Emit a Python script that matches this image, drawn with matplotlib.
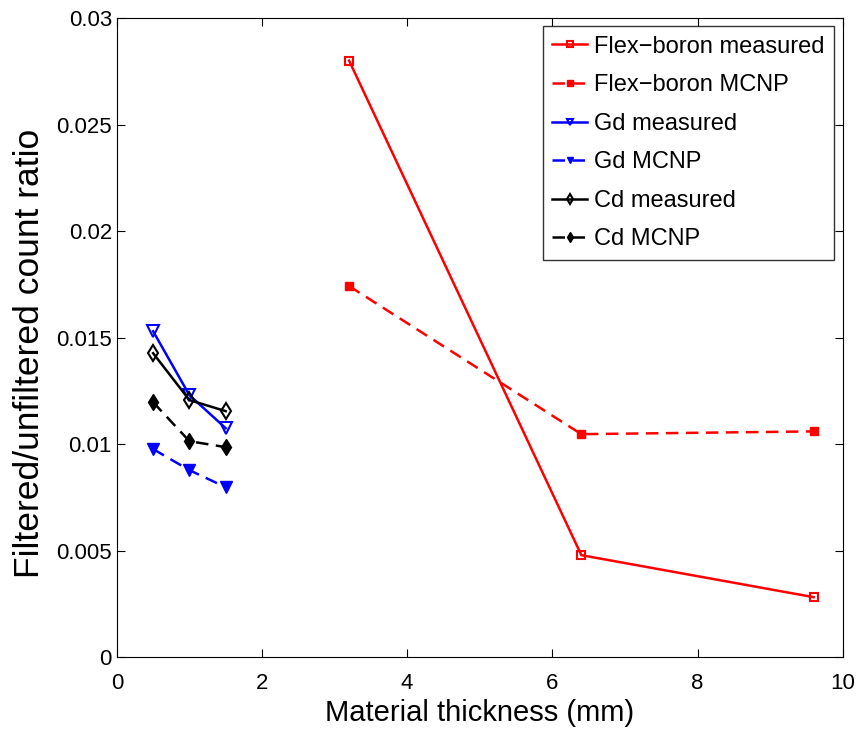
import numpy as np
import matplotlib.pyplot as plt

plt.rcParams['font.family'] = ['Liberation Sans', 'DejaVu Sans']

# thickness (mm)
x_flex = [3.2, 6.4, 9.6]
x_thin = [0.5, 1.0, 1.5]

flex_meas = [0.0280, 0.00479, 0.00282]
flex_mcnp = [0.01742, 0.01047, 0.01060]
gd_meas = [0.01530, 0.01230, 0.01075]
gd_mcnp = [0.00977, 0.00878, 0.00798]
cd_meas = [0.01427, 0.01207, 0.01155]
cd_mcnp = [0.01197, 0.01014, 0.00986]

fig = plt.figure(figsize=(8.59, 7.36), dpi=100)
ax = fig.add_axes([0.136, 0.107, 0.845, 0.8685])

lw = 1.8
dash = (0, (5, 3))
ax.plot(x_flex, flex_meas, '-s', color='r', lw=lw, ms=6, mfc='none', mew=1.5, label='Flex\u2212boron measured')
ax.plot(x_flex, flex_mcnp, 's', ls=dash, color='r', lw=lw, ms=6, label='Flex\u2212boron MCNP')
ax.plot(x_thin, gd_meas, '-v', color='b', lw=lw, ms=8, mfc='none', mew=1.5, label='Gd measured')
ax.plot(x_thin, gd_mcnp, 'v', ls=dash, color='b', lw=lw, ms=8, label='Gd MCNP')
ax.plot(x_thin, cd_meas, '-d', color='k', lw=lw, ms=8, mfc='none', mew=1.5, label='Cd measured')
ax.plot(x_thin, cd_mcnp, 'd', ls=dash, color='k', lw=lw, ms=8, label='Cd MCNP')

ax.set_xlim(0, 10)
ax.set_ylim(0, 0.03)
ax.set_xticks([0, 2, 4, 6, 8, 10])
ax.set_yticks(np.arange(0, 0.031, 0.005))
ax.set_yticklabels(['0', '0.005', '0.01', '0.015', '0.02', '0.025', '0.03'])
ax.tick_params(direction='in', top=True, right=True, labelsize=16, length=6)
ax.tick_params(axis='x', pad=11)
ax.set_xlabel('Material thickness (mm)', fontsize=21, labelpad=4)
ax.set_ylabel('Filtered/unfiltered count ratio', fontsize=25.5)
ax.yaxis.set_label_coords(-0.097, 0.475)

leg = ax.legend(loc='upper right', fontsize=17, fancybox=False, edgecolor='k',
                handlelength=1.5, handletextpad=0.3, borderaxespad=0.35,
                labelspacing=0.7, borderpad=0.4)
leg.get_frame().set_linewidth(1)
for h in leg.legend_handles:
    h.set_markersize(5)

fig.savefig('out.png', dpi=100)
